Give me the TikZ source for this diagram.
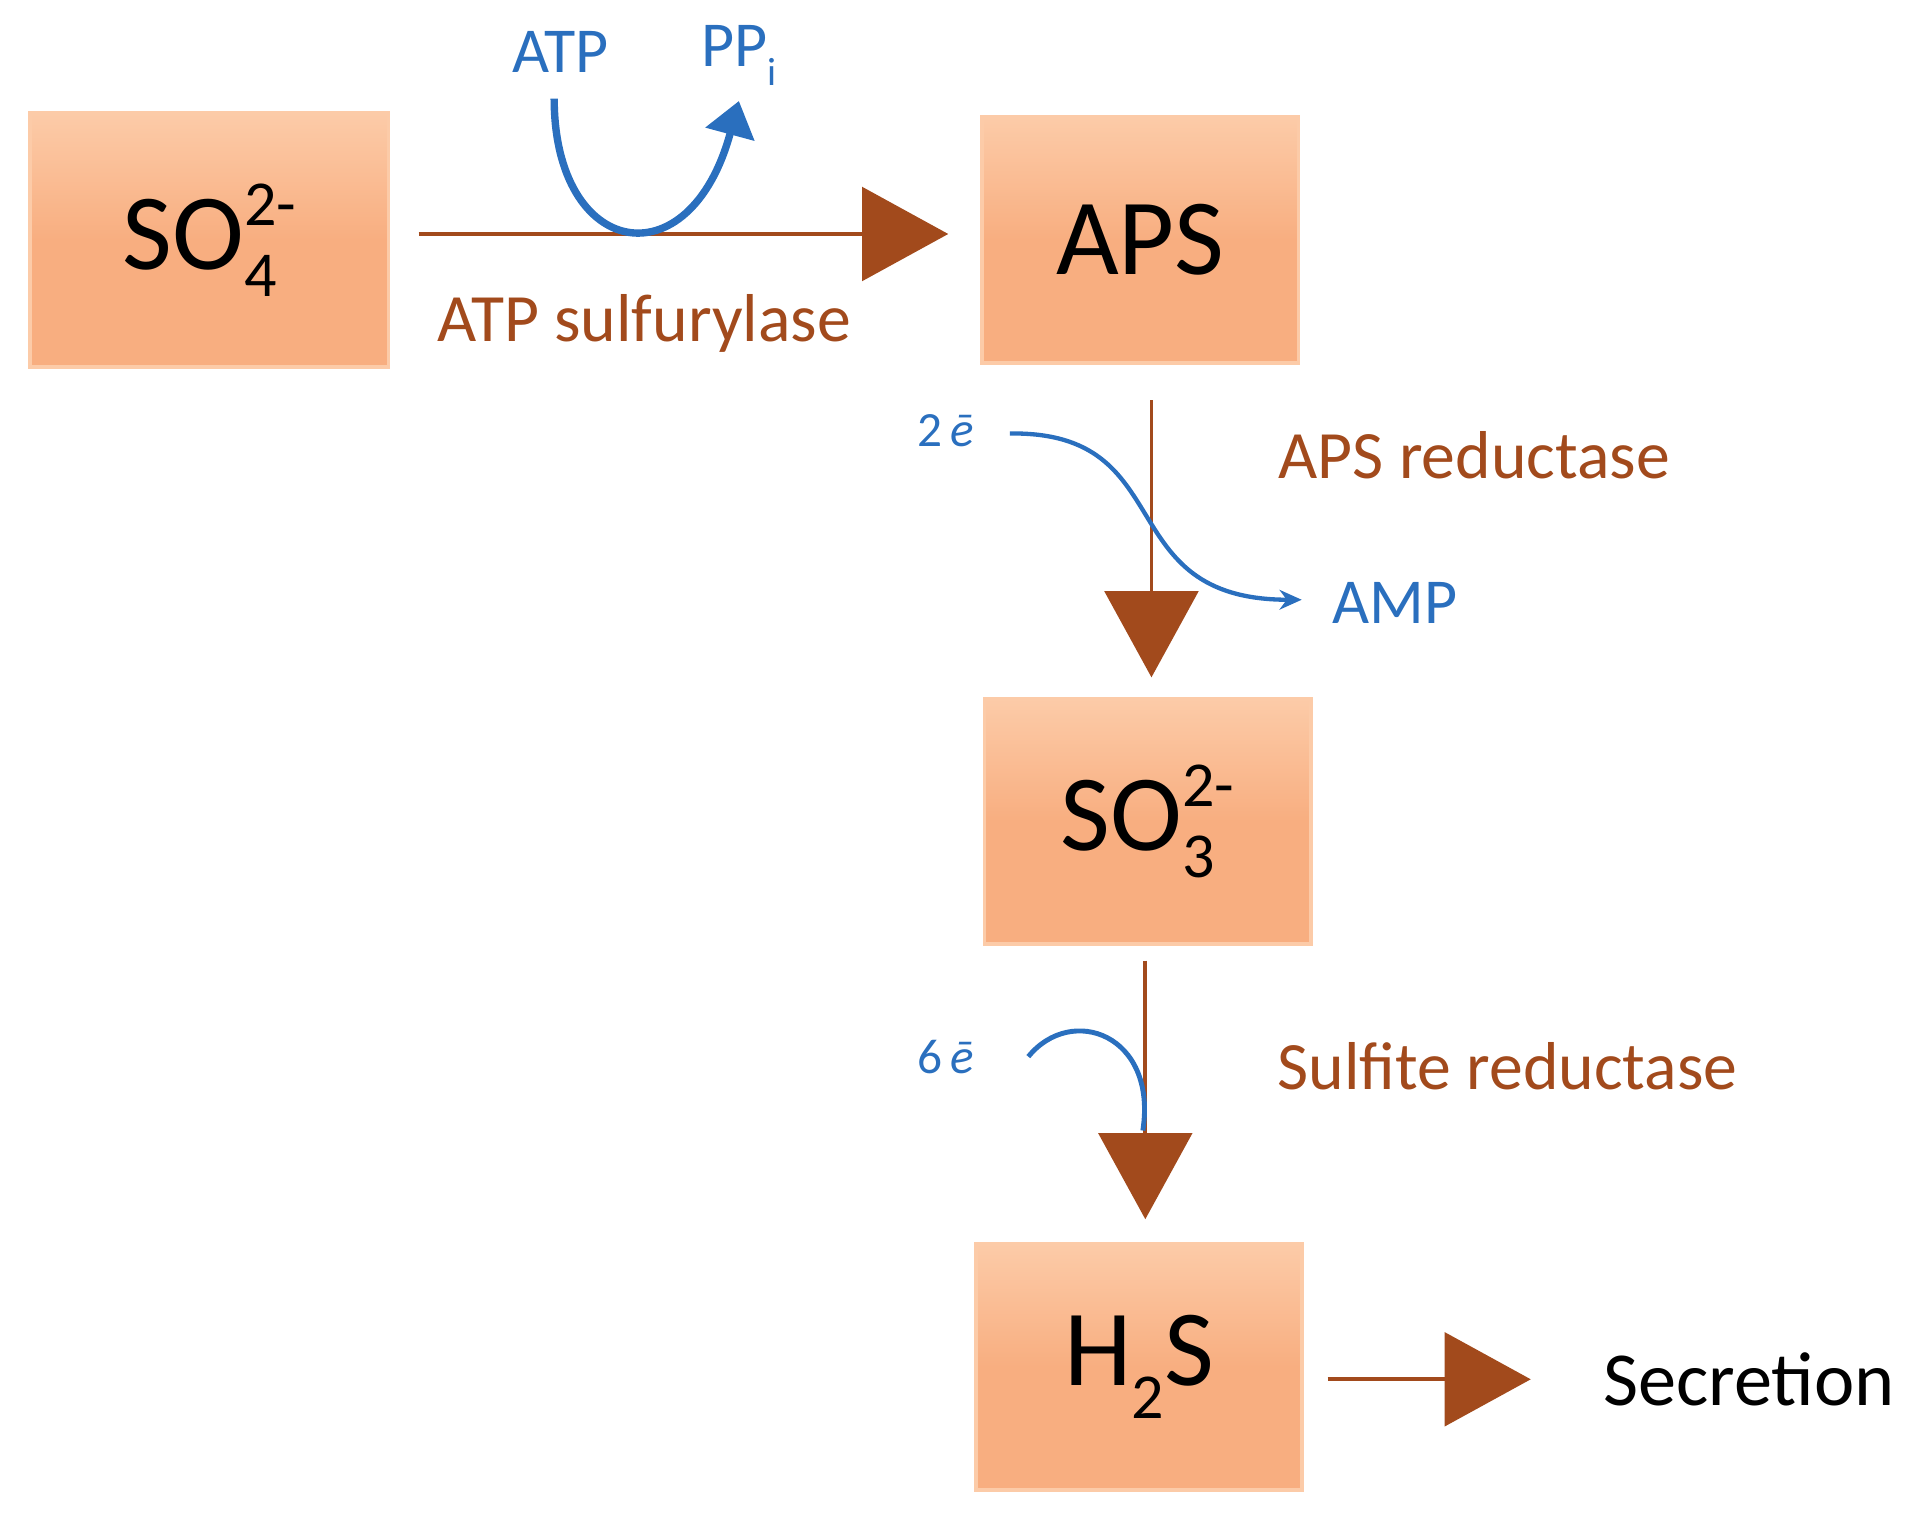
\documentclass[tikz,border=0pt]{standalone}
\usepackage{fontspec}
\setmainfont{Carlito}
\usetikzlibrary{arrows.meta}
\definecolor{boxf}{HTML}{F8AE80}
\definecolor{boxl}{HTML}{FCCBA8}
\definecolor{brn}{HTML}{A24A1C}
\definecolor{blu}{HTML}{2A6FBE}
\newcommand{\subsup}[2]{\makebox[0pt][l]{\raisebox{-0.25em}{\fontsize{52}{54}\selectfont #1}}\raisebox{0.4em}{\fontsize{52}{54}\selectfont #2}}
\tikzset{
 chem/.style={rectangle,draw=boxl,line width=3pt,top color=boxl,bottom color=boxf,middle color=boxf,minimum width=#1,font=\fontsize{88}{96}\selectfont,text=black,inner sep=0pt},
 mainarr/.style={draw=brn,line width=3pt,-{Triangle[length=70pt,width=76pt]}},
 enz/.style={text=brn,font=\fontsize{55}{64}\selectfont,inner sep=0pt},
 bl/.style={text=blu,font=\fontsize{52}{60}\selectfont,inner sep=0pt},
 sm/.style={text=blu,font=\fontsize{40}{46}\selectfont,inner sep=0pt},
}
\begin{document}
\begin{tikzpicture}[x=1pt,y=-1pt]
\useasboundingbox (0,0) rectangle (1568,1232);
\node[chem=291pt,minimum height=206pt] (so4) at (170,195) {SO\subsup{4}{2-}};
\node[chem=257pt,minimum height=200pt] (aps) at (926,195) {APS};
\node[chem=265pt,minimum height=199pt] (so3) at (932,667) {SO\subsup{3}{2-}};
\node[chem=265pt,minimum height=200pt] (h2s) at (925,1110) {H\raisebox{-0.3em}{\fontsize{52}{54}\selectfont 2}S};
\coordinate (a1) at (340,190); \coordinate (a2) at (770,190);
\draw[mainarr] (a1) -- (a2);
\node[enz] (e1) at (523,263) {ATP sulfurylase};
\node[bl] (atp) at (455,42) {ATP};
\node[bl] (ppi) at (600,45) {PP\raisebox{-0.3em}{\fontsize{32}{34}\selectfont i}};
\coordinate (c1) at (450,80);
\coordinate (c2) at (600,82);
\draw[blu,line width=6pt,-{Triangle[length=28pt,width=40pt]}] (c1) .. controls (450,210) and (560,230) .. (c2);
\coordinate (b1) at (935,325); \coordinate (b2) at (935,550);
\draw[mainarr] (b1) -- (b2);
\node[sm] (e2) at (768,350) {2\,\textit{ē}};
\node[enz] (r1) at (1197,370) {APS reductase};
\node[bl] (amp) at (1133,490) {AMP};
\coordinate (d1) at (820,352); \coordinate (d2) at (1057,487);
\draw[blu,line width=3.5pt,-{Stealth[length=18pt,width=16pt]}] (d1) .. controls (960,350) and (900,487) .. (d2);
\coordinate (f1) at (930,780); \coordinate (f2) at (930,990);
\draw[mainarr] (f1) -- (f2);
\node[sm] (e6) at (768,858) {6\,\textit{ē}};
\node[enz] (r2) at (1224,866) {Sulfite reductase};
\coordinate (g1) at (835,858); \coordinate (g2) at (928,918);
\draw[blu,line width=4pt] (g1) .. controls (870,815) and (940,840) .. (g2);
\coordinate (h1) at (1078,1120); \coordinate (h2) at (1243,1120);
\draw[mainarr] (h1) -- (h2);
\node[font=\fontsize{62}{70}\selectfont,inner sep=0pt] (sec) at (1420,1120) {Secretion};
\end{tikzpicture}
\end{document}
